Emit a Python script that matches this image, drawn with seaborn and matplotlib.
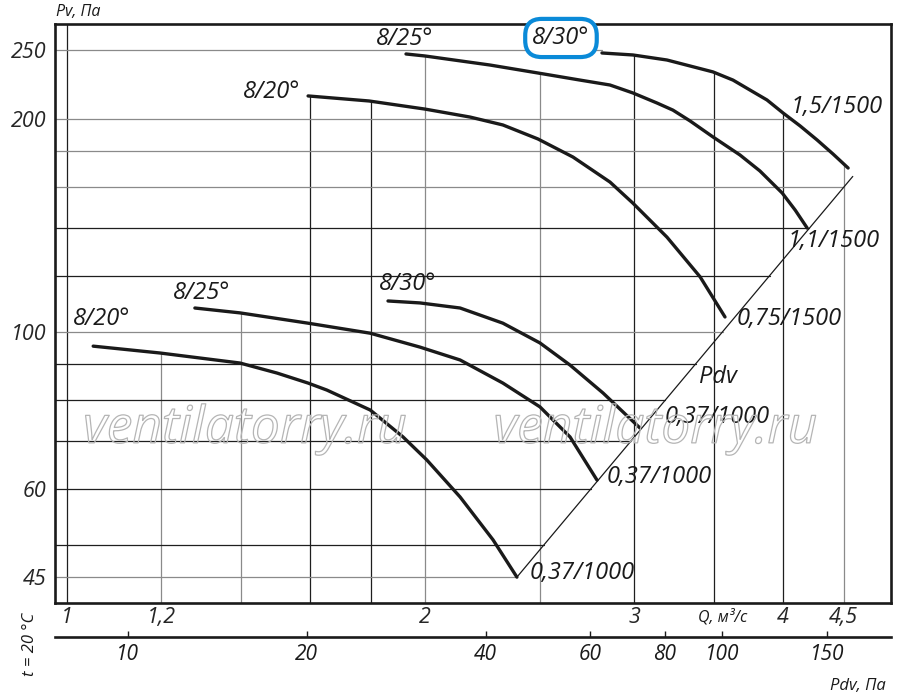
import numpy as np
import pandas as pd
import matplotlib
matplotlib.use("Agg")
import matplotlib.pyplot as plt
import matplotlib.patheffects as pe
from matplotlib.ticker import NullLocator
import seaborn as sns

# upper fan, 1500 rpm (Q m3/s, Pv Pa)
q_up_20 = [1.595, 1.795, 2.00, 2.183, 2.326, 2.489, 2.664, 2.862, 2.992, 3.196, 3.408, 3.576]
pv_up_20 = [215.3, 211.8, 206.3, 201.0, 195.9, 187.2, 176.5, 162.7, 151.9, 136.0, 119.5, 104.9]
q_up_25 = [1.928, 2.00, 2.268, 2.489, 2.701, 2.862, 2.992, 3.135, 3.233, 3.342, 3.494,
           3.681, 3.826, 3.995, 4.097, 4.193]
pv_up_25 = [246.8, 245.2, 238.1, 232.0, 226.7, 223.1, 217.4, 210.4, 205.6, 198.5, 188.4,
            177.7, 168.7, 157.0, 148.5, 140.1]
q_up_30 = [2.818, 2.992, 3.196, 3.494, 3.632, 3.753, 3.879, 4.003, 4.136, 4.274,
           4.409, 4.539]
pv_up_30 = [247.6, 246.0, 242.0, 232.8, 226.7, 219.5, 212.5, 203.6, 195.3, 186.6,
            178.2, 170.3]

# lower fan, 1000 rpm
q_lo_20 = [1.052, 1.197, 1.398, 1.502, 1.595, 1.654, 1.799, 1.917, 2.007, 2.141, 2.282, 2.390]
pv_lo_20 = [95.4, 93.3, 90.3, 87.4, 84.6, 82.7, 77.5, 71.0, 65.9, 58.4, 50.8, 45.0]
q_lo_25 = [1.281, 1.398, 1.595, 1.799, 1.981, 2.141, 2.326, 2.499, 2.649, 2.791]
pv_lo_25 = [108.0, 106.3, 102.8, 99.5, 95.1, 91.2, 84.6, 78.3, 71.0, 61.7]
q_lo_30 = [1.862, 1.981, 2.141, 2.326, 2.499, 2.649, 2.824, 3.033]
pv_lo_30 = [110.5, 109.8, 108.0, 102.8, 96.4, 89.7, 81.9, 73.1]

# dynamic pressure line
pdv_q = [2.39, 4.58]
pdv_pv = [45.0, 165.7]
pdv_k = 7.9  # Pdv = k * Q^2

angle_labels = ["8/20°", "8/25°", "8/30°", "8/20°", "8/25°", "8/30°"]
motor_labels = ["0,75/1500", "1,1/1500", "1,5/1500", "0,37/1000", "0,37/1000", "0,37/1000"]

q_ticks = [1, 1.2, 2, 3, 4, 4.5]
q_tick_labels = ["1", "1,2", "2", "3", "4", "4,5"]
pv_ticks = [45, 60, 100, 200, 250]
pdv_ticks = [10, 20, 40, 60, 80, 100, 150]

q_grid = [1, 1.2, 1.4, 1.6, 1.8, 2, 2.5, 3, 3.5, 4, 4.5]
pv_grid = [45, 50, 60, 70, 80, 90, 100, 120, 140, 160, 180, 200, 250]
q_grid_dark = [1, 1.6, 1.8, 3, 3.5, 4]
pv_grid_dark = [50, 60, 70, 80, 90, 120, 140]

curves = [
    (q_up_20, pv_up_20), (q_up_25, pv_up_25), (q_up_30, pv_up_30),
    (q_lo_20, pv_lo_20), (q_lo_25, pv_lo_25), (q_lo_30, pv_lo_30),
]

sns.set_theme(style="white")
plt.rcParams["font.family"] = ["Open Sans", "DejaVu Sans"]
plt.rcParams["font.style"] = "italic"
plt.rcParams["text.color"] = "#1a1a1a"

fig = plt.figure(figsize=(9, 6.97), dpi=100)
ax = fig.add_axes([0.0611, 0.1349, 0.9289, 0.8307])
ax.set_xscale("log")
ax.set_yscale("log")
xmin, xmax = 0.977, 4.932
ymin, ymax = 41.37, 272.1
ax.set_xlim(xmin, xmax)
ax.set_ylim(ymin, ymax)

# grid lines, clipped to the curves like in the catalogue chart
for q in q_grid:
    tops = [np.interp(q, cq, cp) for cq, cp in curves if cq[0] <= q <= cq[-1]]
    top = max(tops) if tops else ymax
    col = "#1e1e1e" if q in q_grid_dark else "#8a8a8a"
    ax.plot([q, q], [ymin, top], color=col, lw=0.9, zorder=1)

for v in pv_grid:
    if v <= pdv_pv[-1]:
        qe = 10 ** np.interp(np.log10(v), np.log10(pdv_pv), np.log10(pdv_q))
    else:
        qe = np.interp(v, pv_up_30[::-1], q_up_30[::-1])
    col = "#1e1e1e" if v in pv_grid_dark else "#8a8a8a"
    ax.plot([xmin, qe], [v, v], color=col, lw=0.9, zorder=1)

ax.plot(pdv_q, pdv_pv, color="#1a1a1a", lw=0.9, zorder=2)

rows = []
for i, (cq, cp) in enumerate(curves):
    for q, p in zip(cq, cp):
        rows.append({"Q": q, "Pv": p, "curve": i})
df = pd.DataFrame(rows)
sns.lineplot(data=df, x="Q", y="Pv", units="curve", estimator=None, sort=False,
             color="#1a1a1a", lw=2.4, ax=ax, zorder=3)

# curve labels
start_off = [(-36, 4), (-1, 15), (-41, 15), (8, 27), (7, 15), (20, 17)]
end_off = [(12, -2), (-20, -13), (-58, 61), (13, 4), (10, 3), (25, 11)]
for i, (cq, cp) in enumerate(curves):
    kw = {}
    if i == 2:
        kw["bbox"] = dict(boxstyle="round,pad=0.3,rounding_size=0.7", fc="white",
                          ec="#0a8ad8", lw=3)
    ax.annotate(angle_labels[i], xy=(cq[0], cp[0]), xytext=start_off[i],
                textcoords="offset pixels", ha="center", va="center", fontsize=17,
                zorder=5, **kw)
    ax.annotate(motor_labels[i], xy=(cq[-1], cp[-1]), xytext=end_off[i],
                textcoords="offset pixels", ha="left", va="center", fontsize=17,
                zorder=5)

ax.text(0.793, 0.39, "Pdv", transform=ax.transAxes, ha="center", va="center", fontsize=17)

ax.set_xticks(q_ticks, labels=q_tick_labels)
ax.set_yticks(pv_ticks, labels=[str(v) for v in pv_ticks])
ax.xaxis.set_minor_locator(NullLocator())
ax.yaxis.set_minor_locator(NullLocator())
ax.tick_params(axis="x", length=0, pad=3, labelsize=15.5)
ax.tick_params(axis="y", length=0, pad=6, labelsize=15.5)
ax.set_xlabel("")
ax.set_ylabel("")
for s in ax.spines.values():
    s.set_linewidth(1.9)
    s.set_color("#1a1a1a")

sec = ax.secondary_xaxis(-0.0587, functions=(lambda q: pdv_k * np.asarray(q) ** 2,
                                             lambda p: np.sqrt(np.maximum(p, 1e-9) / pdv_k)))
sec.set_xticks(pdv_ticks, labels=[str(v) for v in pdv_ticks])
sec.xaxis.set_minor_locator(NullLocator())
sec.tick_params(direction="in", length=4, width=1, pad=5, labelsize=15, colors="#1a1a1a")
for s in sec.spines.values():
    s.set_linewidth(1.9)
    s.set_color("#1a1a1a")

ax.text(0.798, -0.024, "Q, м³/с", transform=ax.transAxes, ha="center", va="center", fontsize=11.5)
fig.text(0.062, 0.983, "Pv, Па", ha="left", va="center", fontsize=11.5)
fig.text(0.953, 0.016, "Pdv, Па", ha="center", va="center", fontsize=12)
fig.text(0.033, 0.075, "t = 20 °C", ha="center", va="center", rotation=90, fontsize=12)

for xw in (0.272, 0.728):
    fig.text(xw, 0.384, "ventilatorry.ru", ha="center", va="center", fontsize=37,
             color=(1, 1, 1, 0), zorder=2,
             path_effects=[pe.Stroke(linewidth=0.9, foreground="#b5b5b5")])

fig.savefig("out.png", dpi=100)
